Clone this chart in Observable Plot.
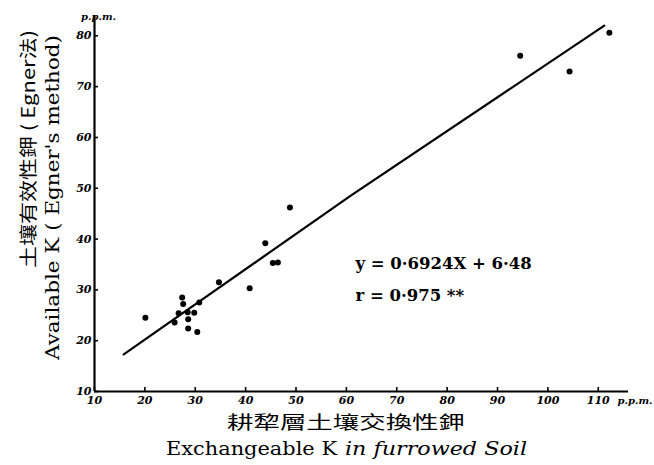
<!DOCTYPE html>
<html><head><meta charset="utf-8">
<script src="https://cdn.jsdelivr.net/npm/d3@7"></script>
<script src="https://cdn.jsdelivr.net/npm/@observablehq/plot@0.6"></script>
<style>html,body{margin:0;padding:0;background:#fff}svg{display:block}</style>
</head><body><div id="chart"></div>
<script>
// Data
const xTicks = [10, 20, 30, 40, 50, 60, 70, 80, 90, 100, 110];
const yTicks = [10, 20, 30, 40, 50, 60, 70, 80];
const kSoil  = [20.1, 27.4, 27.6, 26.7, 25.9, 28.5, 28.6, 28.6, 29.8, 30.4, 30.8, 34.7, 40.8, 43.9, 45.4, 46.4, 48.8, 94.5, 104.3, 112.2];
const kEgner = [24.5, 28.5, 27.2, 25.4, 23.6, 25.6, 24.2, 22.4, 25.5, 21.7, 27.5, 31.5, 30.3, 39.2, 35.3, 35.4, 46.2, 76.1, 73.0, 80.6];
const lineX = [15.8, 60.8, 111.2];
const lineY = [17.3, 48.5, 82.0];
const equationText = "y = 0·6924X + 6·48";
const corrText = "r = 0·975 **";
const unitText = "p.p.m.";
const yTitleZh = "土壤有效性鉀 ( Egner法)";
const yTitleEn = "Available K ( Egner's method)";
const xTitleZh = "耕犂層土壤交換性鉀";
const xTitleEnA = "Exchangeable K";
const xTitleEnB = "in furrowed Soil";

const points = kSoil.map((x, i) => ({x, y: kEgner[i]}));
const fit = lineX.map((x, i) => ({x, y: lineY[i]}));

const tickFont = {fontFamily: "DejaVu Serif", fontWeight: "bold", fontStyle: "italic", fontSize: 11};

const svg = Plot.plot({
  width: 654, height: 465,
  marginTop: 15, marginBottom: 74, marginLeft: 94, marginRight: 26,
  x: {domain: [10, 116]},
  y: {domain: [10, 84]},
  style: {background: "#fff", color: "#000", fontFamily: "DejaVu Serif", overflow: "visible"},
  marks: [
    Plot.axisX({ticks: xTicks, tickSize: -4, tickFormat: () => "", label: null, strokeWidth: 1.6}),
    Plot.axisX({ticks: xTicks, tickSize: 0, tickPadding: 5, label: null, ...tickFont}),
    Plot.axisY({ticks: yTicks, tickSize: -4, tickFormat: () => "", label: null, strokeWidth: 1.6}),
    Plot.axisY({ticks: yTicks, tickSize: 0, tickPadding: 3, label: null, ...tickFont}),
    Plot.ruleY([10], {x1: 10, x2: 116, strokeWidth: 2.2}),
    Plot.ruleX([10], {y1: 10, y2: 84, strokeWidth: 2.2}),
    Plot.line(fit, {x: "x", y: "y", strokeWidth: 2.2}),
    Plot.dot(points, {x: "x", y: "y", r: 3, fill: "#000", stroke: "none"}),
    Plot.text([unitText], {frameAnchor: "top-left", dx: 4, dy: -3, textAnchor: "middle", ...tickFont, fontSize: 10}),
    Plot.text([unitText], {frameAnchor: "bottom-right", dx: -11, dy: 12, textAnchor: "start", ...tickFont, fontSize: 10}),
    Plot.text([equationText], {x: 61.8, y: 35.2, textAnchor: "start", fontFamily: "DejaVu Serif", fontWeight: "bold", fontSize: 16.5}),
    Plot.text([corrText], {x: 61.8, y: 28.9, textAnchor: "start", fontFamily: "DejaVu Serif", fontWeight: "bold", fontSize: 16.5})
  ]
});

const s = d3.select(svg);
function addText(txt, x, y, len, opts) {
  return s.append("text")
    .attr("x", 0).attr("y", 0)
    .attr("transform", `translate(${x},${y})` + (opts.rotate ? ` rotate(${opts.rotate})` : ""))
    .attr("text-anchor", "start")
    .attr("font-family", opts.family)
    .attr("font-size", opts.size)
    .attr("font-style", opts.italic ? "italic" : "normal")
    .attr("fill", "#000")
    .attr("textLength", len)
    .attr("lengthAdjust", "spacingAndGlyphs")
    .text(txt);
}
const zh = "'Noto Sans CJK TC','Noto Sans CJK SC',sans-serif";
const en = "'DejaVu Serif','Liberation Serif',serif";
addText(yTitleZh, 35, 268, 238, {rotate: -90, family: zh, size: 18});
addText(yTitleEn, 59, 360, 325, {rotate: -90, family: en, size: 19});
addText(xTitleZh, 227, 429, 238, {family: zh, size: 18});
addText(xTitleEnA, 166, 455, 171, {family: en, size: 19});
addText(xTitleEnB, 345, 455, 182, {family: en, size: 19, italic: true});

document.getElementById("chart").appendChild(svg);
</script>
</body></html>
